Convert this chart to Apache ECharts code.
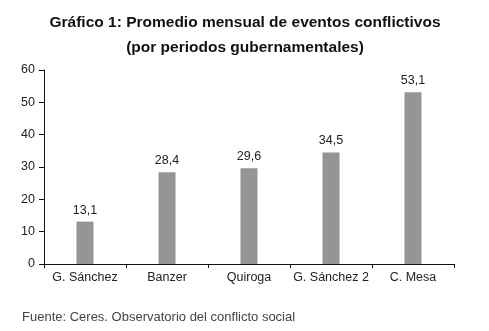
<!DOCTYPE html>
<html>
<head>
<meta charset="utf-8">
<script src="https://cdn.jsdelivr.net/npm/echarts@6/dist/echarts.min.js"></script>
<style>
  html, body { margin: 0; padding: 0; background: #fff; }
  #chart { width: 489px; height: 331px; }
</style>
</head>
<body>
<div id="chart"></div>
<script>
const categories = ['G. Sánchez', 'Banzer', 'Quiroga', 'G. Sánchez 2', 'C. Mesa'];
const values = [13.1, 28.4, 29.6, 34.5, 53.1];
const yTicks = [0, 10, 20, 30, 40, 50, 60];

const font = 'Liberation Sans, Arial, sans-serif';
const chart = echarts.init(document.getElementById('chart'));
chart.setOption({
  animation: false,
  textStyle: { fontFamily: font },
  title: [{
    text: 'Gráfico 1: Promedio mensual de eventos conflictivos\n(por periodos gubernamentales)',
    left: 240,
    top: 5,
    textAlign: 'center',
    textStyle: { fontSize: 15.5, fontWeight: 'bold', color: '#111', lineHeight: 25, fontFamily: font }
  }, {
    text: 'Fuente: Ceres. Observatorio del conflicto social',
    left: 17,
    top: 306,
    textStyle: { fontSize: 13, fontWeight: 'normal', color: '#444', fontFamily: font }
  }],
  grid: { left: 44, right: 35, top: 70, bottom: 67 },
  xAxis: {
    type: 'category',
    data: categories,
    axisLine: { lineStyle: { color: '#111', width: 1 } },
    axisTick: { show: true, length: 4, lineStyle: { color: '#111' } },
    axisLabel: { color: '#222', fontSize: 12.5, margin: 7, interval: 0 }
  },
  yAxis: {
    type: 'value',
    min: yTicks[0],
    max: yTicks[yTicks.length - 1],
    interval: 10,
    axisLine: { show: true, lineStyle: { color: '#111', width: 1 } },
    axisTick: { show: true, length: 5, lineStyle: { color: '#111' } },
    axisLabel: { color: '#222', fontSize: 12.5, margin: 9 },
    splitLine: { show: false }
  },
  series: [{
    type: 'bar',
    data: values,
    barWidth: 17,
    itemStyle: { color: '#959497' },
    label: {
      show: true,
      position: 'top',
      distance: 5,
      color: '#222',
      fontSize: 12.5,
      formatter: p => String(p.value).replace('.', ',')
    }
  }]
});
</script>
</body>
</html>
